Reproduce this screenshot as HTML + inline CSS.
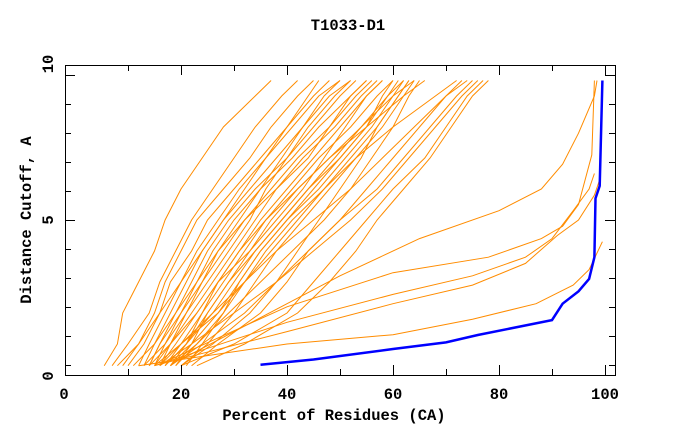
<!DOCTYPE html>
<html><head><meta charset="utf-8">
<style>
html,body{margin:0;padding:0;background:#fff;}
svg text{font-family:"Liberation Mono",monospace;font-weight:bold;font-size:15.5px;fill:#000;}
</style></head>
<body>
<svg id="chart" width="680" height="440" viewBox="0 0 680 440" xmlns="http://www.w3.org/2000/svg">
<text x="348" y="30" text-anchor="middle">T1033-D1</text>
<text transform="translate(31,220) rotate(-90)" text-anchor="middle">Distance Cutoff, A</text>
<text x="334" y="420" text-anchor="middle">Percent of Residues (CA)</text>
<g id="series"></g>
<g id="axes"></g>
</svg>
<script>
const levels = [0.3,1,2,3,4,5,6,7,8,9,9.5];
const bandCurves = [
[5.5,8,9,12,15,17,20,24,28,34,37],
[7,10,14,16,19,22,26,30,34,39,42],
[9,12,15,17,20,23,28,33,37,42,45],
[10,13,16,18,22,25,30,35,40,45,48],
[12,14,17,20,23,27,31,36,41,46,50],
[13,15,18,21,24,28,33,38,43,48,52],
[14,16,19,22,25,29,34,40,45,50,53],
[15,17,20,23,26,30,35,41,46,52,55],
[15,18,21,24,28,32,37,42,48,53,56],
[16,18,22,26,30,34,38,43,49,54,57],
[16,19,23,27,31,35,40,45,50,55,58],
[17,20,24,28,32,36,41,46,52,57,60],
[17,21,25,29,33,37,42,48,54,59,62],
[18,21,26,30,34,39,44,50,55,59,61],
[18,22,27,31,35,40,46,51,56,60,62],
[19,23,28,32,37,42,47,52,57,61,63],
[14,16,20,24,27,32,38,44,48,52,55],
[13,17,21,25,29,33,36,40,44,49,52],
[20,25,30,34,38,43,48,53,58,62,64],
[20,26,33,38,42,46,50,54,57,61,63],
[22,27,35,40,44,50,55,60,65,70,74],
[20,30,40,45,50,55,60,66,70,74,77],
[23,32,42,48,53,57,62,67,71,75,78],
[18,24,32,38,45,52,58,63,68,73,76],
[16,22,30,38,44,50,57,62,67,72,75],
[15,20,27,32,38,45,52,58,64,70,73],
[17,21,24,27,31,36,42,48,55,62,66],
[19,22,25,29,34,39,44,49,54,60,64],
[21,24,28,31,35,40,45,50,55,58,60],
[11,15,19,23,27,31,35,39,43,47,50],
[8,12,16,20,24,28,32,36,40,44,46],
[16,20,26,32,36,41,47,53,60,68,72],
[14,18,23,27,33,38,43,47,51,55,58],
[18,23,29,35,41,47,52,56,60,63,65]
];
const lowCurvesX = [
[12,40,60,75,87,94,97,99.5],
[15,40,60,75,85,91,95,98,99],
[15,40,60,75,85,90,94,97,98],
[18,40,60,78,88,92,95,97.5,98],
[20,50,65,80,88,92,95,98,98.5]
];
const lowCurvesY = [
[0.3,1.0,1.3,1.8,2.3,2.9,3.4,4.3],
[0.3,1.4,2.3,2.9,3.6,4.5,5.0,5.8,6.3],
[0.3,1.7,2.6,3.2,3.8,4.4,5.3,6.0,6.5],
[0.5,2.2,3.3,3.8,4.4,4.8,5.5,7.1,9.5],
[0.5,3.2,4.4,5.3,6.0,6.8,7.8,9.0,9.5]
];
const blueX = [35,45,60,70,76,90,92,95,97,98,98.2,99,99.5];
const blueY = [0.33,0.5,0.84,1.05,1.29,1.77,2.3,2.7,3.1,3.8,5.7,6.1,9.5];
const xTicks = [0,20,40,60,80,100];
const yTicks = [0,5,10];

const xs = v => 75 + v*5.3;
const ys = v => 375 - v*31;
const NS = "http://www.w3.org/2000/svg";
const g = document.getElementById('series');
const ax = document.getElementById('axes');
function line(pts, color, w){
  const p = document.createElementNS(NS,'polyline');
  p.setAttribute('points', pts.map(q=>xs(q[0]).toFixed(1)+','+ys(q[1]).toFixed(1)).join(' '));
  p.setAttribute('fill','none'); p.setAttribute('stroke',color); p.setAttribute('stroke-width',w);
  return p;
}
bandCurves.forEach((c,i)=>{
  const p = line(c.map((x,j)=>[x,levels[j]]),'#ff8c00',1);
  
  
  g.appendChild(p);
});
lowCurvesX.forEach((c,i)=>{
  const p = line(c.map((x,j)=>[x,lowCurvesY[i][j]]),'#ff8c00',1);
  
  
  g.appendChild(p);
});
const b = line(blueX.map((x,j)=>[x,blueY[j]]),'#0000ff',2.5);


g.appendChild(b);

function seg(x1,y1,x2,y2){
  const l=document.createElementNS(NS,'line');
  l.setAttribute('x1',x1);l.setAttribute('y1',y1);l.setAttribute('x2',x2);l.setAttribute('y2',y2);
  l.setAttribute('stroke','#000');l.setAttribute('stroke-width',1);
  ax.appendChild(l); return l;
}
const frame=document.createElementNS(NS,'rect');
frame.setAttribute('x',65.5);frame.setAttribute('y',65.5);frame.setAttribute('width',550);frame.setAttribute('height',310);
frame.setAttribute('fill','none');frame.setAttribute('stroke','#000');


ax.appendChild(frame);
for(let v=10; v<=100; v+=10){
  const X=Math.round(xs(v))+0.5, len=(v%20===0)?10:6;
  seg(X,375,X,375-len); seg(X,65,X,65+len);
}
for(let k=0; k<11; k++){
  const Y=75.5+29*k, len=(k===0||k===5)?10:6;
  seg(65,Y,65+len,Y); seg(615,Y,615-len,Y);
}
xTicks.forEach(v=>{
  const t=document.createElementNS(NS,'text');
  t.setAttribute('x', v===0?64:xs(v)); t.setAttribute('y',399); t.setAttribute('text-anchor','middle');
  t.textContent=v;
  
  
  ax.appendChild(t);
});
yTicks.forEach(v=>{
  const t=document.createElementNS(NS,'text');
  const yy = v===10?64:(v===0?376:220);
  t.setAttribute('transform','translate(53,'+yy+') rotate(-90)'); t.setAttribute('text-anchor','middle');
  t.textContent=v;
  
  
  ax.appendChild(t);
});
</script>
</body></html>
